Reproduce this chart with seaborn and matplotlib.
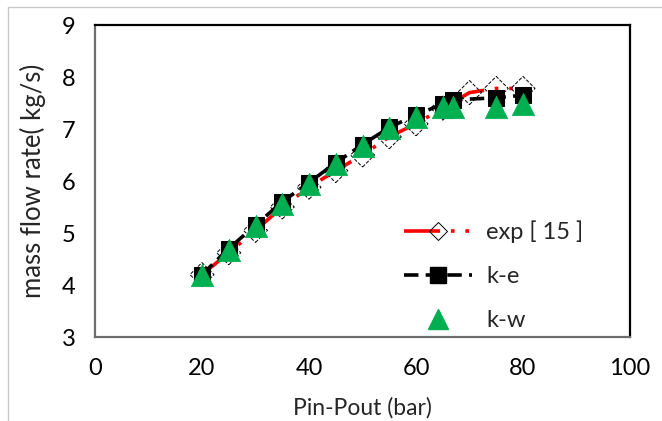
import matplotlib
matplotlib.use("Agg")
import matplotlib.pyplot as plt
import seaborn as sns
import pandas as pd
from matplotlib.lines import Line2D

# Data
exp_x = [20, 25, 30, 35, 40, 45, 50, 55, 60, 65, 70, 75, 80]
exp_y = [4.2, 4.62, 5.05, 5.5, 5.88, 6.2, 6.5, 6.85, 7.1, 7.4, 7.7, 7.78, 7.78]
ke_x = [20, 25, 30, 35, 40, 45, 50, 55, 60, 65, 67, 75, 80]
ke_y = [4.2, 4.7, 5.15, 5.6, 5.97, 6.35, 6.7, 7.03, 7.27, 7.48, 7.56, 7.6, 7.65]
kw_x = [20, 25, 30, 35, 40, 45, 50, 55, 60, 65, 67, 75, 80]
kw_y = [4.19, 4.68, 5.14, 5.56, 5.95, 6.33, 6.68, 7.02, 7.23, 7.42, 7.42, 7.42, 7.49]
x_ticks = [0, 20, 40, 60, 80, 100]
y_ticks = [3, 4, 5, 6, 7, 8, 9]

sns.set_theme(style="white")
plt.rcParams['font.family'] = ['Lato', 'DejaVu Sans']

df_exp = pd.DataFrame({"x": exp_x, "y": exp_y})
df_ke = pd.DataFrame({"x": ke_x, "y": ke_y})
df_kw = pd.DataFrame({"x": kw_x, "y": kw_y})

fig = plt.figure(figsize=(6.62, 4.21), dpi=100)
ax = fig.add_axes([95/662, 1-337/421, (630-95)/662, (337-25)/421])

# exp [15]
sns.lineplot(data=df_exp, x="x", y="y", ax=ax, color="#FF0000", linewidth=2.6,
             dashes=False, legend=False, zorder=2)
ax.lines[-1].set_dashes([10, 3, 1, 3, 1, 3])
sns.scatterplot(data=df_exp, x="x", y="y", ax=ax, marker="D", s=150,
                facecolor="none", edgecolor="black", linewidth=0.7,
                linestyle="--", legend=False, zorder=2)

# k-e
sns.lineplot(data=df_ke, x="x", y="y", ax=ax, color="black", linewidth=2.6,
             marker="s", markersize=12, markerfacecolor="black",
             markeredgecolor="black", legend=False, zorder=3)
ax.lines[-1].set_dashes([4, 2])

# k-w
sns.scatterplot(data=df_kw, x="x", y="y", ax=ax, marker="^", s=260,
                color="#00B050", edgecolor="#00B050", linewidth=0.5,
                legend=False, zorder=4)

ax.set_xlim(0, 100)
ax.set_ylim(3, 9)
ax.set_xticks(x_ticks)
ax.set_yticks(y_ticks)
ax.set_xticklabels([str(v) for v in x_ticks], fontsize=17)
ax.set_yticklabels([str(v) for v in y_ticks], fontsize=17)
ax.tick_params(axis="x", direction="in", length=7, width=1, color="#808080",
               pad=15, labelcolor="black")
ax.tick_params(axis="y", direction="in", length=7, width=1, color="#808080",
               pad=14, labelcolor="black")
ax.set_xlabel("Pin-Pout (bar)", fontsize=16.5, labelpad=13)
ax.set_ylabel("mass flow rate( kg/s)", fontsize=18.5, labelpad=11)

for side in ["left", "bottom"]:
    ax.spines[side].set_color("#6E6E6E")
    ax.spines[side].set_linewidth(1.6)
for side in ["top", "right"]:
    ax.spines[side].set_color("black")
    ax.spines[side].set_linewidth(1.6)

# Legend
h_exp = Line2D([], [], color="#FF0000", linewidth=2.6, dashes=[10, 3, 1, 3, 1, 3])
h_exp_m = Line2D([], [], linestyle="none", marker="D", markersize=9,
                 markerfacecolor="none", markeredgecolor="black", markeredgewidth=0.7)
h_ke = Line2D([], [], color="black", linewidth=2.6, dashes=[4, 2], marker="s",
              markersize=12, markerfacecolor="black", markeredgecolor="black")
h_kw = Line2D([], [], linestyle="none", marker="^", markersize=15,
              markerfacecolor="#00B050", markeredgecolor="#00B050")
ax.legend([(h_exp, h_exp_m), h_ke, h_kw], ["exp [ 15 ]", "k-e", "k-w"],
          loc="lower right", bbox_to_anchor=(0.953, -0.05), frameon=False,
          fontsize=17, handlelength=2.9, labelspacing=0.98, handletextpad=0.6)

# Figure border (left/top)
fig.add_artist(Line2D([8/662, 8/662], [0, 1-7/421], transform=fig.transFigure,
                      color="#C8C8C8", linewidth=1))
fig.add_artist(Line2D([8/662, 1], [1-7/421, 1-7/421], transform=fig.transFigure,
                      color="#C8C8C8", linewidth=1))

fig.savefig("out.png", dpi=100)
